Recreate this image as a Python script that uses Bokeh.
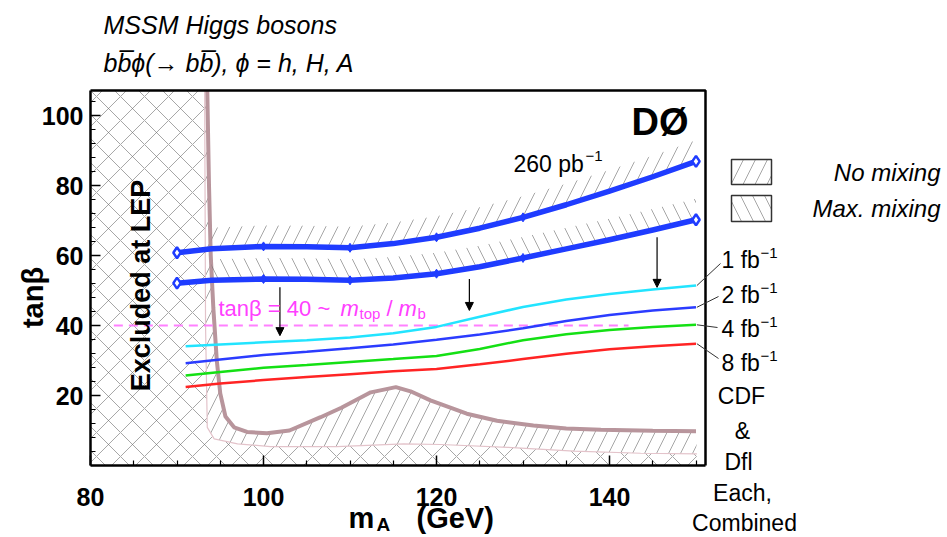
import math
from bokeh.plotting import figure
from bokeh.models import Range1d, Label, Arrow, NormalHead, LinearAxis, FixedTicker
from bokeh.embed import file_html
from bokeh.resources import INLINE

# ---------------- data ----------------
# 260 pb^-1 observed limits
mA_260 = [90, 94, 100, 105, 110, 115, 120, 125, 130, 135, 140, 145, 150]
tb_nomix = [60.8, 61.9, 62.6, 62.5, 62.2, 63.4, 65.2, 67.8, 70.9, 74.5, 78.4, 82.5, 86.9]
tb_maxmix = [52.1, 52.9, 53.3, 53.2, 52.9, 53.6, 54.8, 56.8, 59.3, 61.9, 64.5, 67.3, 70.2]
marker_idx = [2, 4, 6, 8]
end_idx = [0, 12]

# projected sensitivities, CDF & DØ combined
mA_proj = [91, 95, 100, 105, 110, 115, 120, 125, 130, 135, 140, 145, 150]
tb_1fb = [34.1, 34.6, 35.2, 35.8, 36.6, 37.8, 39.6, 42.5, 45.3, 47.4, 49.0, 50.3, 51.4]
tb_2fb = [29.2, 30.3, 31.6, 32.5, 33.5, 34.6, 35.9, 37.4, 39.2, 41.3, 43.0, 44.3, 45.2]
tb_4fb = [25.7, 26.7, 27.9, 28.7, 29.6, 30.4, 31.3, 33.3, 35.8, 37.5, 38.7, 39.6, 40.2]
tb_8fb = [22.4, 23.4, 24.4, 25.3, 26.1, 26.9, 27.6, 28.9, 30.4, 31.9, 33.2, 34.1, 34.8]
proj_labels = ["1 fb", "2 fb", "4 fb", "8 fb"]
proj_colors = ["#22e4ff", "#2b3cff", "#14e014", "#ff2424"]

# LEP exclusion contours
lep_thick_x = [93.5, 93.7, 93.9, 94.2, 94.6, 95.0, 95.6, 96.6, 98.1, 100.4, 103.0, 106.6, 109.0,
               112.4, 115.3, 117.0, 119.3, 123.5, 127.0, 131.2, 135.0, 139.0, 145.0, 150.0]
lep_thick_y = [107.1, 80, 60, 45, 30, 20.6, 14.0, 10.9, 9.6, 9.2, 10.0, 13.8, 16.5,
               20.9, 22.4, 21.2, 18.6, 14.8, 12.8, 11.4, 10.6, 10.2, 9.9, 9.8]
lep_thin_x = [93.2, 93.3, 93.5, 94.3, 97.0, 100.8, 108.5, 116.2, 120.5, 128.2, 135.9, 143.6, 150.1]
lep_thin_y = [107.1, 40, 10.9, 7.6, 6.2, 5.4, 5.4, 6.2, 6.0, 5.2, 4.1, 3.5, 3.3]

# tan(beta) = 40 reference line
ref_tb = 40
ref_x = [82.7, 142.2]

# improvement arrows
arrow_x = [101.9, 123.8, 145.5]
arrow_top = [50.9, 53.3, 65.2]
arrow_tip = [37.1, 44.3, 50.9]

# axis ticks
x_ticks = [80, 100, 120, 140]
x_minor = [85, 90, 95, 105, 110, 115, 125, 130, 135, 145, 150]
y_ticks = [20, 40, 60, 80, 100]
y_minor = [4, 8, 12, 16, 24, 28, 32, 36, 44, 48, 52, 56, 64, 68, 72, 76, 84, 88, 92, 96, 104]

# ---------------- pixel helpers (window px -> data) ----------------
def X(px):
    return 80 + (px - 90) / 8.65

def Y(py):
    return (465 - py) / 3.5

XMIN, XMAX = 80, X(705)
YMIN, YMAX = 0, Y(90)
FONT = "Liberation Sans"

p = figure(width=947, height=537, title=None,
           x_range=Range1d(X(0), X(947)), y_range=Range1d(Y(537), Y(0)),
           x_axis_location=None, y_axis_location=None,
           output_backend="svg", toolbar_location=None, min_border=0)
p.grid.visible = False
p.outline_line_color = None
p.background_fill_color = "white"
p.border_fill_color = "white"

xax = LinearAxis(fixed_location=YMIN, bounds=(XMIN, XMAX),
                 ticker=FixedTicker(ticks=x_ticks, minor_ticks=x_minor))
yax = LinearAxis(fixed_location=XMIN, bounds=(YMIN, YMAX),
                 ticker=FixedTicker(ticks=y_ticks, minor_ticks=y_minor))
p.add_layout(xax, "below")
p.add_layout(yax, "left")
for ax in (xax, yax):
    ax.axis_line_width = 2.5
    ax.major_tick_in = 10
    ax.major_tick_out = 0
    ax.minor_tick_in = 5
    ax.minor_tick_out = 0
    ax.major_tick_line_width = 1.5
    ax.minor_tick_line_width = 1.2
    ax.major_label_text_font = FONT
    ax.major_label_text_font_style = "bold"
    ax.major_label_text_font_size = "25px"
    ax.major_label_text_color = "black"
xax.major_label_standoff = 22
yax.major_label_standoff = 7

HATCH = "#6a6a6a"
HS = 24

# LEP: cross-hatched region left of / below the thin contour
cx = [XMIN, XMIN] + lep_thin_x + [lep_thin_x[-1]]
cy = [YMIN, lep_thin_y[0]] + lep_thin_y + [YMIN]
p.patch(cx, cy, fill_alpha=0, line_alpha=0, hatch_pattern="x", hatch_color=HATCH,
        hatch_weight=0.6, hatch_scale=HS)
# LEP: single hatched region between thin and thick contour
bx = lep_thin_x + lep_thick_x[::-1]
by = lep_thin_y + lep_thick_y[::-1]
p.patch(bx, by, fill_alpha=0, line_alpha=0, hatch_pattern="/", hatch_color=HATCH,
        hatch_weight=0.6, hatch_scale=HS)
p.line(lep_thin_x, lep_thin_y, line_color="#e3c3ca", line_width=1.2)
p.line(lep_thick_x, lep_thick_y, line_color="#b8959c", line_width=4)

# hatched bands on the excluded side of the 260 pb^-1 limits
band = 6
xs_b = mA_260[1:]
p.varea(xs_b, tb_nomix[1:], [v + band for v in tb_nomix[1:]], fill_alpha=0,
        hatch_pattern="/", hatch_color=HATCH, hatch_weight=0.6, hatch_scale=HS)
p.varea(xs_b, tb_maxmix[1:], [v + band for v in tb_maxmix[1:]], fill_alpha=0,
        hatch_pattern="\\", hatch_color=HATCH, hatch_weight=0.6, hatch_scale=HS)

# reference line tan(beta)=40
p.line(ref_x, [ref_tb, ref_tb], line_color="#ff80ff", line_width=2, line_dash="9 6")

# projections
for ys, c in zip([tb_1fb, tb_2fb, tb_4fb, tb_8fb], proj_colors):
    p.line(mA_proj, ys, line_color=c, line_width=2.5)

# 260 pb^-1 limits
BLUE = "#1f3cff"
for ys in (tb_nomix, tb_maxmix):
    p.line(mA_260, ys, line_color=BLUE, line_width=5.5, line_join="round")
    p.scatter([mA_260[i] for i in marker_idx], [ys[i] for i in marker_idx], marker="diamond",
              size=9, fill_color=BLUE, line_color=BLUE)
    p.scatter([mA_260[i] for i in end_idx], [ys[i] for i in end_idx], marker="diamond",
              size=11, fill_color="white", line_color=BLUE, line_width=2.5)

# arrows
for ax_, t, b in zip(arrow_x, arrow_top, arrow_tip):
    p.add_layout(Arrow(end=NormalHead(size=8, fill_color="black", line_color="black"),
                       x_start=ax_, y_start=t, x_end=ax_, y_end=b,
                       line_color="black", line_width=1.2))

# top and right edges of the frame
p.line([XMIN, XMAX, XMAX], [YMAX, YMAX, YMIN], line_color="black", line_width=2.5)


def lab(px, py, text, size, align="left", style="normal", color="black", angle=0.0,
        baseline="middle"):
    p.add_layout(Label(x=X(px), y=Y(py), text=text, text_font=FONT,
                       text_font_size=f"{size}px", text_align=align, text_baseline=baseline,
                       text_font_style=style, text_color=color, angle=angle))


# titles
lab(103, 24, "MSSM Higgs bosons", 25, style="italic")
lab(103, 62, "bb\u0305\u03d5(\u2192 bb\u0305), \u03d5 = h, H, A", 25, style="italic")

# axis titles
lab(348, 517, "m", 29, style="bold")
lab(376, 524, "A", 19, style="bold")
lab(416, 517, "(GeV)", 29, style="bold")
lab(32, 297, "tan\u03b2", 29, style="bold", align="center", angle=math.pi / 2)

# in-frame texts
lab(140, 285, "Excluded at LEP", 27, style="bold", align="center", angle=math.pi / 2)
lab(688, 121, "D\u00d8", 38, style="bold", align="right")
lab(513, 163, "260 pb", 23)
lab(585, 155, "\u22121", 15)
MAG = "#ff40ff"
lab(218, 308, "tan\u03b2 = 40 ~", 22, color=MAG)
lab(340, 308, "m", 22, style="italic", color=MAG)
lab(359, 313, "top", 15, color=MAG)
lab(386, 308, "/", 22, color=MAG)
lab(398, 308, "m", 22, style="italic", color=MAG)
lab(417, 313, "b", 15, color=MAG)

# legend boxes
for (y0, y1), pat in zip([(159, 184), (195, 221)], ["/", "\\"]):
    p.quad(left=X(731), right=X(771), top=Y(y0), bottom=Y(y1), fill_alpha=0,
           line_color="#333333", line_width=1.5, hatch_pattern=pat, hatch_color=HATCH,
           hatch_weight=0.6, hatch_scale=HS)
lab(940, 172, "No mixing", 24, style="italic", align="right")
lab(940, 208, "Max. mixing", 24, style="italic", align="right")

# projection labels with leader lines
lab_py = [259, 294, 328, 362]
lead_end = [(720, 263), (718, 296), (717, 327), (718, 358)]
for ys, txt, ly, (ex, ey) in zip([tb_1fb, tb_2fb, tb_4fb, tb_8fb], proj_labels, lab_py, lead_end):
    p.segment(x0=[mA_proj[-1] + 0.1], y0=[ys[-1]], x1=[X(ex)], y1=[Y(ey)],
              line_color="#333333", line_width=1.0)
    lab(721, ly, txt, 23)
    lab(760, ly - 7, "\u22121", 15)

lab(741, 395, "CDF", 23, align="center")
lab(742, 430, "&", 23, align="center")
lab(738, 461, "Dfl", 23, align="center")
lab(742, 492, "Each,", 23, align="center")
lab(744, 522, "Combined", 23, align="center")

open("out.html", "w").write(file_html(p, INLINE))
